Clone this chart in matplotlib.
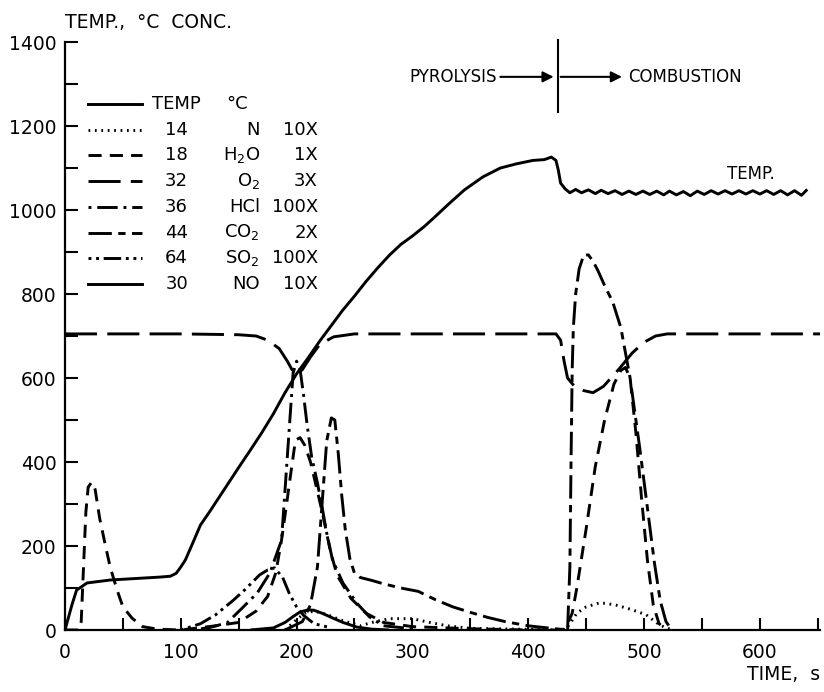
import matplotlib
matplotlib.use("Agg")
import matplotlib.pyplot as plt
from matplotlib.ticker import MultipleLocator, FixedLocator

# --- Data -------------------------------------------------------------------

TEMP_T = [0, 3, 6, 10, 19, 39, 82, 91, 96, 100, 104, 110, 117, 125, 140, 150,
          160, 170, 180, 190, 200, 210, 220, 230, 240, 250, 260, 270, 280, 290,
          300, 310, 320, 332, 345, 361, 376, 390, 404, 414, 420, 424, 426, 428,
          432, 436, 441, 446, 452, 458, 463, 469, 475, 481, 487, 493, 499, 505,
          511, 517, 522, 528, 534, 540, 546, 552, 558, 564, 570, 576, 582, 588,
          594, 600, 606, 612, 618, 624, 630, 636, 641]
TEMP_V = [0, 30, 60, 95, 112, 119, 126, 128, 135, 150, 167, 205, 250, 282, 345,
          387, 428, 470, 515, 565, 610, 648, 688, 725, 762, 795, 830, 862, 892,
          918, 938, 960, 985, 1016, 1048, 1079, 1100, 1110, 1118, 1120, 1126,
          1118, 1095, 1064, 1050, 1041, 1049, 1041, 1048, 1039, 1047, 1039,
          1046, 1037, 1045, 1037, 1045, 1037, 1045, 1036, 1045, 1036, 1044,
          1034, 1045, 1037, 1046, 1038, 1046, 1038, 1046, 1038, 1046, 1038,
          1046, 1037, 1046, 1036, 1046, 1035, 1049]

N_T = [190, 200, 207, 215, 225, 240, 255, 265, 280, 300, 315, 330, 350,
       432, 436, 442, 450, 462, 475, 490, 502, 511, 518, 525]
N_V = [0, 25, 40, 45, 38, 22, 10, 18, 27, 27, 18, 10, 4,
       0, 15, 40, 55, 65, 60, 48, 36, 17, 6, 0]

H2O_T = [0, 12, 14, 16, 18, 20, 23, 26, 30, 35, 39, 45, 50, 58, 67, 80, 100,
         130, 150, 165, 175, 182, 187, 191, 195, 199, 203, 207, 212, 218, 223,
         229, 235, 247, 260, 275, 300, 350, 400, 430, 434, 438, 442, 450, 458,
         466, 474, 480, 484, 488, 493, 498, 503, 508, 513, 520]
H2O_V = [0, 0, 20, 150, 280, 340, 352, 335, 265, 200, 150, 95, 55, 28, 8, 2, 0,
         10, 18, 45, 80, 136, 214, 293, 373, 452, 458, 440, 400, 330, 270,
         190, 130, 75, 40, 18, 8, 3, 0, 0, 15, 40, 100, 240, 390, 500, 585, 618,
         625, 600, 470, 310, 165, 60, 15, 0]

O2_T = [0, 100, 150, 165, 175, 185, 192, 197, 200, 205, 212, 220, 232, 250,
        300, 400, 424, 428, 431, 434, 440, 448, 456, 465, 478, 490, 500, 510,
        520, 560, 652]
O2_V = [705, 705, 703, 700, 690, 670, 640, 615, 608, 620, 650, 680, 698, 705,
        705, 705, 705, 690, 640, 600, 580, 570, 565, 580, 620, 660, 685, 700,
        705, 705, 705]

HCL_T = [110, 125, 140, 154, 166, 177, 187, 190, 194, 197, 200, 203, 206, 209,
         213, 218, 222, 226, 231, 240, 252, 263, 275, 300]
HCL_V = [0, 6, 17, 55, 88, 136, 214, 333, 493, 612, 640, 620, 560, 490, 412,
         350, 293, 231, 167, 112, 64, 31, 10, 3]

CO2_T = [190, 205, 212, 218, 222, 226, 230, 233, 236, 239, 242, 246, 250, 255,
         265, 275, 290, 305, 320, 335, 350, 365, 380, 400, 420,
         434, 436, 437, 438, 439, 441, 444, 448, 452, 456, 460, 466, 473, 480,
         488, 496, 503, 509, 514, 519, 524]
CO2_V = [0, 20, 60, 150, 300, 450, 505, 500, 420, 320, 240, 170, 135, 125,
         118, 110, 100, 92, 72, 55, 42, 30, 20, 10, 4,
         0, 150, 400, 620, 720, 800, 860, 893, 893, 878, 857, 820, 781, 720,
         600, 440, 290, 160, 70, 20, 0]

SO2_T = [100, 117, 130, 145, 155, 168, 175, 181, 188, 194, 200, 206, 215, 230]
SO2_V = [0, 15, 36, 70, 95, 131, 143, 148, 125, 85, 55, 35, 15, 5]

NO_T = [160, 180, 190, 197, 203, 210, 215, 222, 230, 240, 252, 265, 280]
NO_V = [0, 5, 18, 32, 43, 48, 47, 40, 30, 18, 7, 2, 0]

X_TICKS = [0, 100, 200, 300, 400, 500, 600]
Y_TICKS = [0, 200, 400, 600, 800, 1000, 1200, 1400]

PHASE_SWITCH_T = 426

# --- Styles -----------------------------------------------------------------

LW = 2.1
STYLES = {
    'TEMP': '-',
    'N': (0, (0.6, 1.6)),
    'H2O': (0, (4.5, 2.8)),
    'O2': (0, (11, 3.5)),
    'HCl': (0, (1, 2, 7, 2)),
    'CO2': (0, (8, 2.2, 2.5, 2.2)),
    'SO2': (0, (1, 1.6, 1, 1.6, 6, 1.6)),
    'NO': '-',
}

SERIES = [
    ('TEMP', TEMP_T, TEMP_V),
    ('N', N_T, N_V),
    ('H2O', H2O_T, H2O_V),
    ('O2', O2_T, O2_V),
    ('HCl', HCL_T, HCL_V),
    ('CO2', CO2_T, CO2_V),
    ('SO2', SO2_T, SO2_V),
    ('NO', NO_T, NO_V),
]

LEGEND_ROWS = [
    ('TEMP', 'TEMP', '', ''),
    ('N', '14', 'N', '10X'),
    ('H2O', '18', r'H$_2$O', '1X'),
    ('O2', '32', r'O$_2$', '3X'),
    ('HCl', '36', 'HCl', '100X'),
    ('CO2', '44', r'CO$_2$', '2X'),
    ('SO2', '64', r'SO$_2$', '100X'),
    ('NO', '30', 'NO', '10X'),
]

plt.rcParams['font.family'] = ['DejaVu Sans']
plt.rcParams['mathtext.fontset'] = 'dejavusans'

W, H = 824, 692
fig = plt.figure(figsize=(W / 100, H / 100), dpi=100)
ax = fig.add_axes([65 / W, 62 / H, 755 / W, 588 / H])

for name, t, v in SERIES:
    ax.plot(t, v, color='black', linestyle=STYLES[name], linewidth=LW,
            solid_capstyle='butt', dash_capstyle='butt')

for side in ('top', 'right'):
    ax.spines[side].set_visible(False)
for side in ('left', 'bottom'):
    ax.spines[side].set_linewidth(1.6)

ax.xaxis.set_major_locator(FixedLocator(X_TICKS))
ax.xaxis.set_minor_locator(MultipleLocator(50))
ax.yaxis.set_major_locator(FixedLocator(Y_TICKS))
ax.yaxis.set_minor_locator(MultipleLocator(100))
ax.set_xlim(0, 652)
ax.set_ylim(0, 1400)
ax.tick_params(which='both', direction='in', length=9, width=1.5,
               labelsize=13.5)
ax.tick_params(axis='x', which='both', pad=9)
ax.tick_params(axis='y', which='both', pad=6)

fig.text(65 / W, 1 - 22 / H, 'TEMP.,  °C  CONC.', fontsize=13.5,
         ha='left', va='center')
fig.text(820 / W, 1 - 674 / H, 'TIME,  s', fontsize=13.5,
         ha='right', va='center')

# phase annotation
ax.plot([PHASE_SWITCH_T, PHASE_SWITCH_T], [1233, 1405], color='black',
        lw=1.5, clip_on=False)
ax.annotate('', xy=(PHASE_SWITCH_T - 4, 1317), xytext=(376, 1317),
            arrowprops=dict(arrowstyle='-|>', color='black', lw=1.5,
                            mutation_scale=16, shrinkA=0, shrinkB=0),
            annotation_clip=False)
ax.annotate('', xy=(481, 1317), xytext=(PHASE_SWITCH_T + 2, 1317),
            arrowprops=dict(arrowstyle='-|>', color='black', lw=1.5,
                            mutation_scale=16, shrinkA=0, shrinkB=0),
            annotation_clip=False)
ax.text(373, 1317, 'PYROLYSIS', fontsize=12, ha='right', va='center')
ax.text(486, 1317, 'COMBUSTION', fontsize=12, ha='left', va='center')
ax.text(592, 1085, 'TEMP.', fontsize=12, ha='center', va='center')

# legend drawn by hand to get the three text columns
for i, (name, num, species, mult) in enumerate(LEGEND_ROWS):
    py = 104 + 25.7 * i
    fy = 1 - py / H
    fig.add_artist(plt.Line2D([88 / W, 142 / W], [fy, fy], color='black',
                              linestyle=STYLES[name], linewidth=LW))
    if name == 'TEMP':
        fig.text(152 / W, fy, 'TEMP', fontsize=13, ha='left', va='center')
        fig.text(226 / W, fy, '°C', fontsize=13, ha='left', va='center')
        continue
    fig.text(188 / W, fy, num, fontsize=13, ha='right', va='center')
    fig.text(260 / W, fy, species, fontsize=13, ha='right', va='center')
    fig.text(318 / W, fy, mult, fontsize=13, ha='right', va='center')

fig.savefig('out.png', dpi=100)
